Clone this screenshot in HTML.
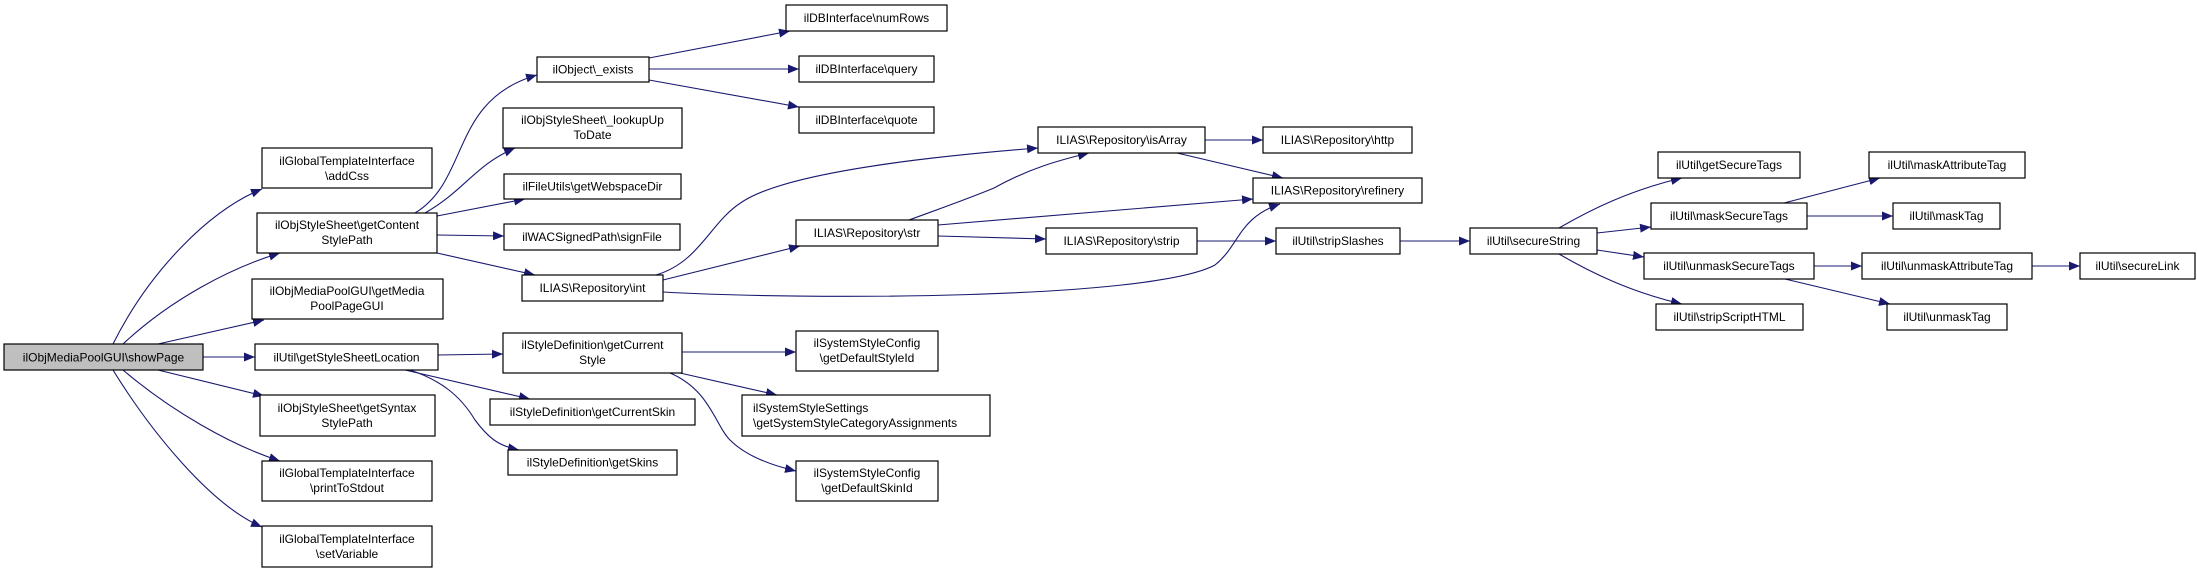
<!DOCTYPE html>
<html><head><meta charset="utf-8"><style>
html,body{margin:0;padding:0;background:#fff;}
svg{display:block;}
text{font-family:"Liberation Sans",Arial,sans-serif;font-size:12px;fill:#000;}
.b{fill:#fff;stroke:#000;stroke-width:1.2;}
.e{fill:none;stroke:#191970;stroke-width:1.1;}
</style></head><body>
<svg width="2197" height="573" viewBox="0 0 2197 573" xmlns="http://www.w3.org/2000/svg">
<defs><marker id="a" markerUnits="userSpaceOnUse" markerWidth="12" markerHeight="10" refX="11" refY="4.5" orient="auto"><path d="M0,0 L11,4.5 L0,9 z" fill="#191970"/></marker></defs>
<g class="e" marker-end="url(#a)">
<path d="M113,344 C150,270 210,210 262,189"/>
<path d="M123,344 C170,300 230,268 280,253"/>
<path d="M158,344 L264,320"/>
<path d="M203,357 L255,357"/>
<path d="M158,370 L264,396"/>
<path d="M123,370 C170,410 230,445 280,461"/>
<path d="M113,370 C150,430 210,505 262,527"/>
<path d="M415,213 C470,180 450,100 537,75"/>
<path d="M425,213 C465,190 475,165 515,148"/>
<path d="M437,216 L525,199"/>
<path d="M437,235 L504,236"/>
<path d="M437,253 L535,275"/>
<path d="M649,58 L790,31"/>
<path d="M649,69 L799,69"/>
<path d="M649,80 L799,107"/>
<path d="M656,275 C700,262 710,222 742,202 C790,170 950,155 1038,148"/>
<path d="M663,280 L800,246"/>
<path d="M663,292 C800,300 1150,300 1215,265 C1240,245 1238,218 1280,204"/>
<path d="M909,220 C950,205 970,198 994,188 C1030,168 1060,160 1089,153"/>
<path d="M938,225 L1253,199"/>
<path d="M938,236 L1046,239"/>
<path d="M1205,140 L1263,140"/>
<path d="M1177,153 L1283,178"/>
<path d="M1197,241 L1276,241"/>
<path d="M1400,241 L1470,241"/>
<path d="M1559,228 C1590,210 1630,190 1682,178"/>
<path d="M1597,233 L1651,227"/>
<path d="M1597,250 L1644,257"/>
<path d="M1559,254 C1590,272 1630,292 1682,304"/>
<path d="M1784,203 L1880,178"/>
<path d="M1807,216 L1893,216"/>
<path d="M1814,266 L1862,266"/>
<path d="M1785,279 L1890,304"/>
<path d="M2032,266 L2080,266"/>
<path d="M438,355 L503,354"/>
<path d="M405,370 L530,399"/>
<path d="M410,370 C440,380 460,395 475,420 C490,440 500,446 519,450"/>
<path d="M682,352 L796,352"/>
<path d="M680,373 L777,395"/>
<path d="M670,373 C710,390 715,425 730,440 C745,455 770,465 796,471"/>
</g>
<rect x="4" y="344" width="199" height="26" fill="#bfbfbf" stroke="#000" stroke-width="1.2"/>
<text x="103.5" y="361.5" text-anchor="middle">ilObjMediaPoolGUI\showPage</text>
<g>
<rect class="b" x="262" y="148" width="170" height="40"/><text x="347" y="165" text-anchor="middle">ilGlobalTemplateInterface</text><text x="347" y="180" text-anchor="middle">\addCss</text>
<rect class="b" x="257" y="213" width="180" height="40"/><text x="347" y="229" text-anchor="middle">ilObjStyleSheet\getContent</text><text x="347" y="244" text-anchor="middle">StylePath</text>
<rect class="b" x="252" y="279" width="191" height="40"/><text x="347" y="295" text-anchor="middle">ilObjMediaPoolGUI\getMedia</text><text x="347" y="310" text-anchor="middle">PoolPageGUI</text>
<rect class="b" x="255" y="344" width="183" height="26"/><text x="346.5" y="361.5" text-anchor="middle">ilUtil\getStyleSheetLocation</text>
<rect class="b" x="260" y="395" width="175" height="41"/><text x="347" y="412" text-anchor="middle">ilObjStyleSheet\getSyntax</text><text x="347" y="427" text-anchor="middle">StylePath</text>
<rect class="b" x="262" y="461" width="170" height="40"/><text x="347" y="477" text-anchor="middle">ilGlobalTemplateInterface</text><text x="347" y="492" text-anchor="middle">\printToStdout</text>
<rect class="b" x="262" y="526" width="170" height="41"/><text x="347" y="543" text-anchor="middle">ilGlobalTemplateInterface</text><text x="347" y="558" text-anchor="middle">\setVariable</text>
<rect class="b" x="537" y="57" width="112" height="25"/><text x="593" y="73.5" text-anchor="middle">ilObject\_exists</text>
<rect class="b" x="503" y="108" width="179" height="40"/><text x="592.5" y="124" text-anchor="middle">ilObjStyleSheet\_lookupUp</text><text x="592.5" y="139" text-anchor="middle">ToDate</text>
<rect class="b" x="504" y="174" width="177" height="25"/><text x="592.5" y="190.5" text-anchor="middle">ilFileUtils\getWebspaceDir</text>
<rect class="b" x="504" y="224" width="176" height="26"/><text x="592" y="241" text-anchor="middle">ilWACSignedPath\signFile</text>
<rect class="b" x="522" y="275" width="141" height="26"/><text x="592.5" y="292" text-anchor="middle">ILIAS\Repository\int</text>
<rect class="b" x="503" y="333" width="179" height="40"/><text x="592.5" y="349" text-anchor="middle">ilStyleDefinition\getCurrent</text><text x="592.5" y="364" text-anchor="middle">Style</text>
<rect class="b" x="490" y="399" width="205" height="26"/><text x="592.5" y="416" text-anchor="middle">ilStyleDefinition\getCurrentSkin</text>
<rect class="b" x="508" y="450" width="169" height="25"/><text x="592.5" y="466.5" text-anchor="middle">ilStyleDefinition\getSkins</text>
<rect class="b" x="786" y="5" width="161" height="26"/><text x="866.5" y="22" text-anchor="middle">ilDBInterface\numRows</text>
<rect class="b" x="799" y="56" width="135" height="26"/><text x="866.5" y="73" text-anchor="middle">ilDBInterface\query</text>
<rect class="b" x="799" y="107" width="135" height="26"/><text x="866.5" y="124" text-anchor="middle">ilDBInterface\quote</text>
<rect class="b" x="1038" y="127" width="167" height="26"/><text x="1121.5" y="144" text-anchor="middle">ILIAS\Repository\isArray</text>
<rect class="b" x="1263" y="127" width="149" height="26"/><text x="1337.5" y="144" text-anchor="middle">ILIAS\Repository\http</text>
<rect class="b" x="1253" y="178" width="169" height="25"/><text x="1337.5" y="194.5" text-anchor="middle">ILIAS\Repository\refinery</text>
<rect class="b" x="796" y="220" width="142" height="26"/><text x="867" y="237" text-anchor="middle">ILIAS\Repository\str</text>
<rect class="b" x="1046" y="228" width="151" height="26"/><text x="1121.5" y="245" text-anchor="middle">ILIAS\Repository\strip</text>
<rect class="b" x="1276" y="228" width="124" height="26"/><text x="1338" y="245" text-anchor="middle">ilUtil\stripSlashes</text>
<rect class="b" x="796" y="331" width="142" height="40"/><text x="867" y="347" text-anchor="middle">ilSystemStyleConfig</text><text x="867" y="362" text-anchor="middle">\getDefaultStyleId</text>
<rect class="b" x="742" y="395" width="248" height="41"/><text x="753" y="412">ilSystemStyleSettings</text><text x="753" y="427">\getSystemStyleCategoryAssignments</text>
<rect class="b" x="796" y="461" width="142" height="40"/><text x="867" y="477" text-anchor="middle">ilSystemStyleConfig</text><text x="867" y="492" text-anchor="middle">\getDefaultSkinId</text>
<rect class="b" x="1470" y="228" width="127" height="26"/><text x="1533.5" y="245" text-anchor="middle">ilUtil\secureString</text>
<rect class="b" x="1658" y="152" width="142" height="26"/><text x="1729" y="169" text-anchor="middle">ilUtil\getSecureTags</text>
<rect class="b" x="1651" y="203" width="156" height="26"/><text x="1729" y="220" text-anchor="middle">ilUtil\maskSecureTags</text>
<rect class="b" x="1644" y="253" width="170" height="26"/><text x="1729" y="270" text-anchor="middle">ilUtil\unmaskSecureTags</text>
<rect class="b" x="1656" y="304" width="147" height="26"/><text x="1729.5" y="321" text-anchor="middle">ilUtil\stripScriptHTML</text>
<rect class="b" x="1869" y="152" width="156" height="26"/><text x="1947" y="169" text-anchor="middle">ilUtil\maskAttributeTag</text>
<rect class="b" x="1893" y="203" width="107" height="26"/><text x="1946.5" y="220" text-anchor="middle">ilUtil\maskTag</text>
<rect class="b" x="1862" y="253" width="170" height="26"/><text x="1947" y="270" text-anchor="middle">ilUtil\unmaskAttributeTag</text>
<rect class="b" x="2080" y="253" width="115" height="26"/><text x="2137.5" y="270" text-anchor="middle">ilUtil\secureLink</text>
<rect class="b" x="1887" y="304" width="120" height="26"/><text x="1947" y="321" text-anchor="middle">ilUtil\unmaskTag</text>
</g>
</svg>
</body></html>
